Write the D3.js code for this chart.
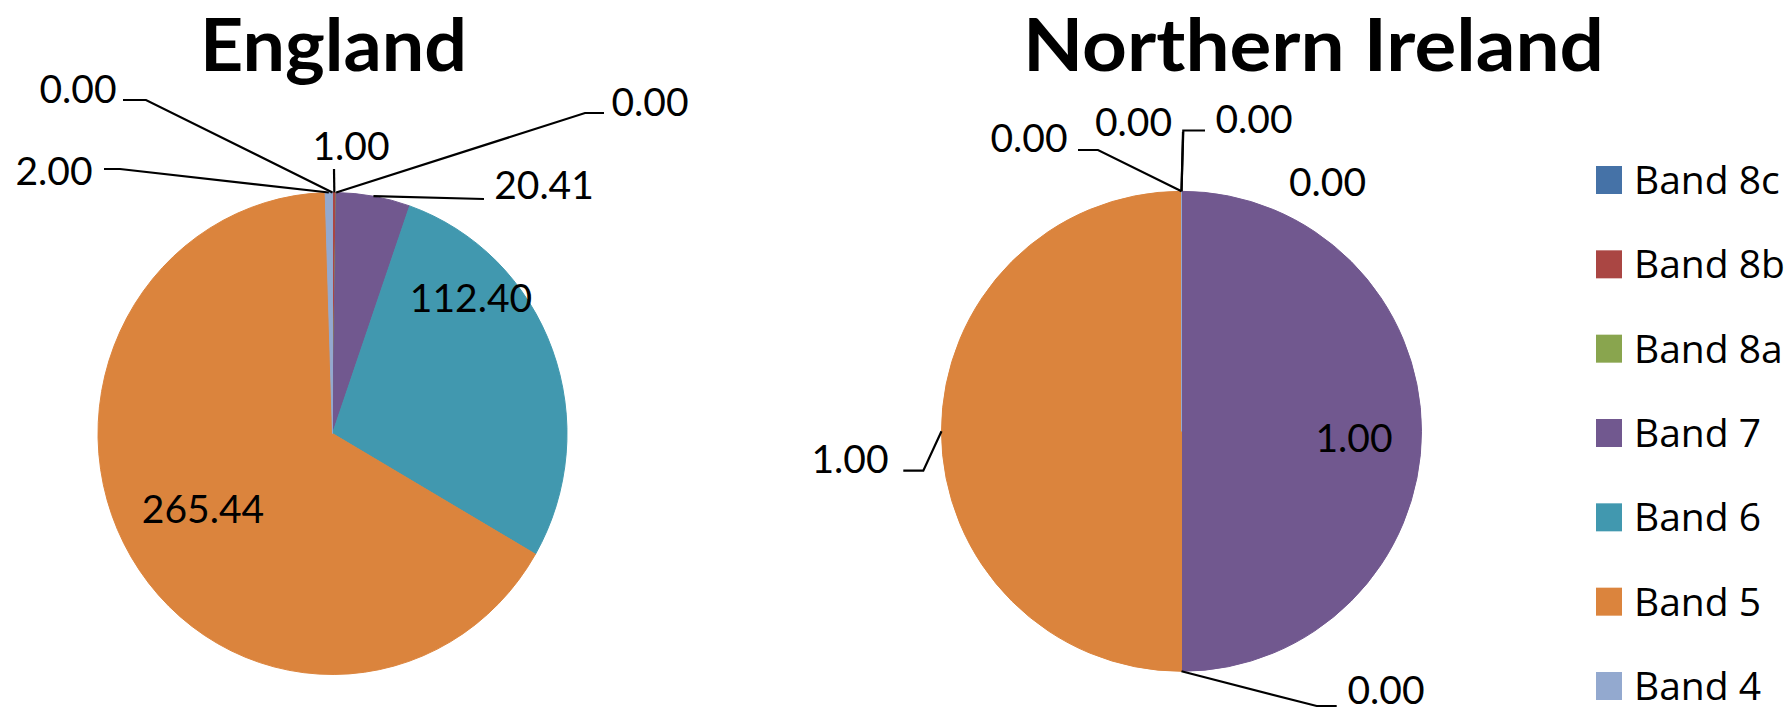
<!DOCTYPE html>
<html>
<head>
<meta charset="utf-8">
<script src="https://cdn.jsdelivr.net/npm/d3@7"></script>
<style>
  html, body { margin: 0; padding: 0; background: #ffffff; }
  svg { display: block; }
</style>
</head>
<body>
<svg id="chart" width="1786" height="713"></svg>
<script>
// Pay band categories, in slice order (clockwise from 12 o'clock)
const bands = ["Band 8c", "Band 8b", "Band 8a", "Band 7", "Band 6", "Band 5", "Band 4"];
const bandColors = ["#4572A7", "#AA4643", "#89A54E", "#71588F", "#4198AF", "#DB843D", "#93A9CF"];

// Values per band for each nation
const englandValues = [0.00, 1.00, 0.00, 20.41, 112.40, 265.44, 2.00];
const northernIrelandValues = [0.00, 0.00, 0.00, 1.00, 0.00, 1.00, 0.00];

// Panel geometry and label placement (label centre + leader elbow points)
const panels = [
  {
    title: "England", values: englandValues,
    cx: 332.5, cy: 433.5, rx: 234.5, ry: 241,
    titleX: 333.5, titleY: 71, titleWidth: 267,
    labels: [
      { x: 78,  y: 89,  leader: [[123, 100], [146, 100]] },
      { x: 351, y: 146, leader: [[334, 169]] },
      { x: 650, y: 102, leader: [[604, 113], [585, 113]] },
      { x: 544, y: 185, leader: [[484, 199]] },
      { x: 471, y: 298, leader: [] },
      { x: 203, y: 509, leader: [] },
      { x: 54,  y: 171, leader: [[104, 169], [120, 169]] }
    ]
  },
  {
    title: "Northern Ireland", values: northernIrelandValues,
    cx: 1181.5, cy: 431.3, rx: 240, ry: 240,
    titleX: 1313.5, titleY: 71, titleWidth: 581,
    labels: [
      { x: 1029,   y: 137.5, leader: [[1078, 150], [1098, 150]] },
      { x: 1133.5, y: 121.5, leader: [[1183, 132]] },
      { x: 1254,   y: 118.5, leader: [[1205, 130.5], [1183.3, 130.5]] },
      { x: 1354,   y: 438,   leader: [] },
      { x: 1386,   y: 690,   leader: [[1336.7, 706], [1316.7, 706]] },
      { x: 850,    y: 459,   leader: [[903.3, 470.7], [923.3, 470.7]] },
      { x: 1327.5, y: 181.5, leader: [] }
    ]
  }
];

const svg = d3.select("#chart");
const color = d3.scaleOrdinal().domain(bands).range(bandColors);

const pie = d3.pie().sort(null).value(d => d.value).startAngle(0).endAngle(2 * Math.PI);
const line = d3.line();

panels.forEach(p => {
  const data = bands.map((b, i) => ({ band: b, value: p.values[i] }));
  const arcs = pie(data);
  const r = p.ry;
  const arc = d3.arc().innerRadius(0).outerRadius(r);

  // Title
  svg.append("text")
    .attr("x", p.titleX).attr("y", p.titleY)
    .attr("text-anchor", "middle")
    .attr("font-family", "Lato, 'Open Sans', sans-serif")
    .attr("font-weight", 700)
    .attr("font-size", 72)
    .attr("textLength", p.titleWidth)
    .attr("lengthAdjust", "spacingAndGlyphs")
    .attr("fill", "#000")
    .text(p.title);

  // Slices (stroked in their own colour so zero-value slices show as hairlines)
  const g = svg.append("g")
    .attr("transform", `translate(${p.cx},${p.cy}) scale(${p.rx / p.ry},1)`);
  g.selectAll("path.slice")
    .data(arcs)
    .join("path")
    .attr("class", "slice")
    .attr("d", arc)
    .attr("fill", d => color(d.data.band))
    .attr("stroke", d => color(d.data.band))
    .attr("stroke-width", 1);

  // Point on the rim at each slice's mid angle
  const rimPoint = d => {
    const a = (d.startAngle + d.endAngle) / 2;
    return [p.cx + p.rx * Math.sin(a), p.cy - p.ry * Math.cos(a)];
  };

  // Leader lines
  arcs.forEach((d, i) => {
    const lab = p.labels[i];
    if (lab.leader.length) {
      svg.append("path")
        .attr("d", line([...lab.leader, rimPoint(d)]))
        .attr("fill", "none")
        .attr("stroke", "#000")
        .attr("stroke-width", 2.2);
    }
  });

  // Data labels
  svg.append("g").selectAll("text")
    .data(arcs)
    .join("text")
    .attr("x", (d, i) => p.labels[i].x)
    .attr("y", (d, i) => p.labels[i].y)
    .attr("dy", "0.36em")
    .attr("text-anchor", "middle")
    .attr("font-family", "Lato, 'Open Sans', sans-serif")
    .attr("font-size", 39)
    .attr("fill", "#000")
    .text(d => d.data.value.toFixed(2));
});

// Legend
const legendY = d3.scalePoint().domain(bands).range([180, 686]);
const legend = svg.append("g");
const item = legend.selectAll("g")
  .data(bands)
  .join("g")
  .attr("transform", d => `translate(1596,${legendY(d)})`);
item.append("rect")
  .attr("x", 0).attr("y", -14)
  .attr("width", 26).attr("height", 28)
  .attr("fill", d => color(d));
item.append("text")
  .attr("x", 38).attr("y", 0)
  .attr("dy", "0.36em")
  .attr("font-family", "'Open Sans', sans-serif")
  .attr("font-size", 39)
  .attr("fill", "#000")
  .text(d => d);
</script>
</body>
</html>
